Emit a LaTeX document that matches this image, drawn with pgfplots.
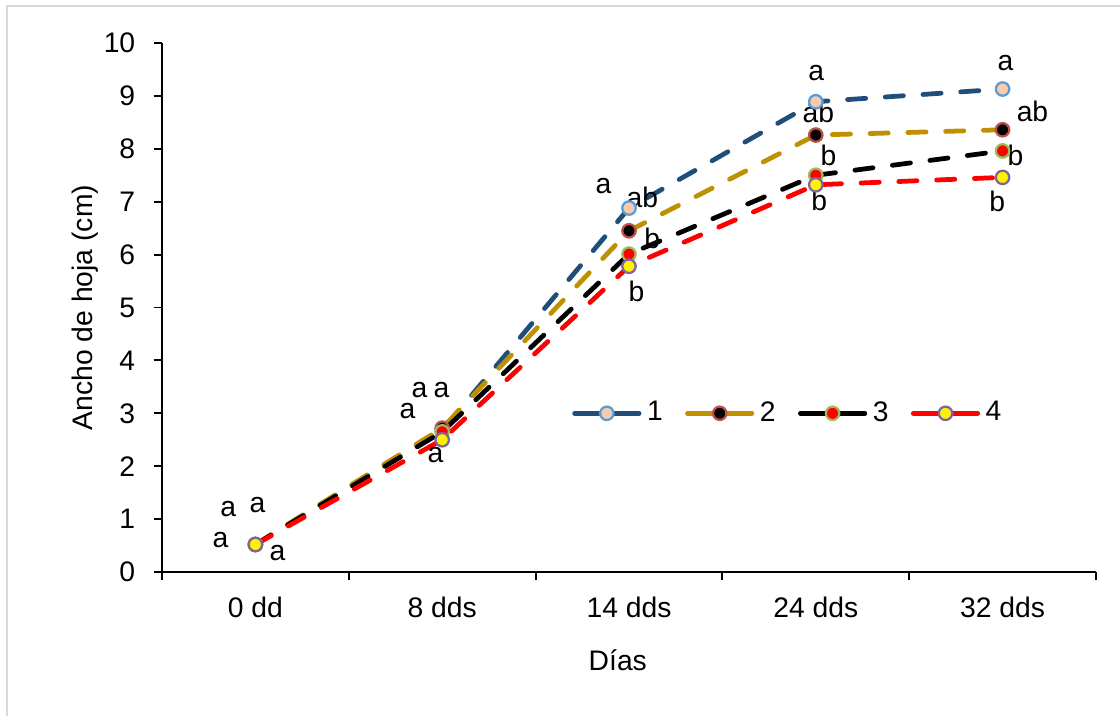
\documentclass[border=0pt]{standalone}
\usepackage{fontspec}
\setmainfont{Liberation Sans}
\usepackage{pgfplots}
\pgfplotsset{compat=1.18}
\definecolor{lblue}{HTML}{1F4E79}
\definecolor{peach}{HTML}{F8CBAD}
\definecolor{edgeblue}{HTML}{5B9BD5}
\definecolor{gold}{HTML}{BF9000}
\definecolor{edgered}{HTML}{C0504D}
\definecolor{edgegreen}{HTML}{9BBB59}
\definecolor{edgepurple}{HTML}{8064A2}
\definecolor{framegray}{HTML}{D9D9D9}
\newcommand{\ff}{\fontsize{10.1}{12}\selectfont}
\pgfplotstableread{
x s1 s2 s3 s4
0 0.52 0.52 0.52 0.52
1 2.68 2.72 2.65 2.50
2 6.88 6.45 6.01 5.78
3 8.89 8.26 7.50 7.32
4 9.13 8.36 7.96 7.46
}\datatable
\begin{document}
\ff
\begin{tikzpicture}
\useasboundingbox (0,0) rectangle (400pt,255.36pt);
\draw[color=framegray, line width=0.8pt] (2.5pt,-5pt) -- (2.5pt,253.2pt) -- (405pt,253.2pt);
\begin{axis}[
  at={(57.86pt,51.07pt)}, anchor=south west,
  scale only axis, width=333.57pt, height=188.93pt,
  xmin=-0.5, xmax=4.5, ymin=0, ymax=10,
  axis x line*=bottom, axis y line*=left,
  axis line style={line width=0.7pt, -, black},
  ytick={0,1,...,10},
  tick align=outside, major tick length=3pt,
  tick style={black, line width=0.7pt},
  xtick={-0.5,0.5,1.5,2.5,3.5,4.5}, xticklabels={},
  extra x ticks={0,1,2,3,4},
  extra x tick labels={0 dd,8 dds,14 dds,24 dds,32 dds},
  extra x tick style={major tick length=0pt, tick label style={yshift=-5.5pt}},
  yticklabel style={xshift=-3pt},
  /pgf/number format/assume math mode=true,
  tick label style={font=\ff},
  label style={font=\ff},
  ylabel={Ancho de hoja (cm)},
  ylabel style={at={(axis description cs:-0.082,0.5)}, anchor=center, rotate=0},
  xlabel={Días},
  xlabel style={at={(axis description cs:0.488,-0.166)}, anchor=center},
  legend style={at={(axis description cs:0.672,0.30)}, anchor=center, draw=none, fill=none,
    font=\ff, legend columns=4,
    /tikz/every even column/.append style={column sep=6pt}},
  legend image code/.code={%
    \draw[#1, solid, mark repeat=2, mark phase=2] plot coordinates {(0pt,0pt) (11.5pt,0pt) (23pt,0pt)};},
  every axis plot/.append style={line width=1.7pt, dash pattern=on 6.5pt off 7pt, line cap=round},
  clip=false,
]
\addplot[lblue, mark=*, mark size=2.4pt, mark options={solid, line width=0.8pt, draw=edgeblue, fill=peach}] table[x=x, y=s1] {\datatable};
\addlegendentry{1}
\addplot[gold, mark=*, mark size=2.4pt, mark options={solid, line width=0.8pt, draw=edgered, fill=black}] table[x=x, y=s2] {\datatable};
\addlegendentry{2}
\addplot[black, mark=*, mark size=2.4pt, mark options={solid, line width=0.8pt, draw=edgegreen, fill=red}] table[x=x, y=s3] {\datatable};
\addlegendentry{3}
\addplot[red, mark=*, mark size=2.4pt, mark options={solid, line width=0.8pt, draw=edgepurple, fill=yellow}] table[x=x, y=s4] {\datatable};
\addlegendentry{4}
% significance letters
\node[font=\ff] at (axis cs:-0.187,0.605) {a};
\node[font=\ff] at (axis cs:-0.145,1.19) {a};
\node[font=\ff] at (axis cs:0.011,1.27) {a};
\node[font=\ff] at (axis cs:0.118,0.36) {a};
\node[font=\ff] at (axis cs:0.814,3.04) {a};
\node[font=\ff] at (axis cs:0.878,3.44) {a};
\node[font=\ff] at (axis cs:0.996,3.44) {a};
\node[font=\ff] at (axis cs:0.964,2.21) {a};
\node[font=\ff] at (axis cs:1.863,7.30) {a};
\node[font=\ff] at (axis cs:2.072,7.09) {ab};
\node[font=\ff] at (axis cs:2.125,6.31) {b};
\node[font=\ff] at (axis cs:2.040,5.31) {b};
\node[font=\ff] at (axis cs:3.003,9.43) {a};
\node[font=\ff] at (axis cs:3.014,8.68) {ab};
\node[font=\ff] at (axis cs:3.068,7.88) {b};
\node[font=\ff] at (axis cs:3.019,7.03) {b};
\node[font=\ff] at (axis cs:4.015,9.62) {a};
\node[font=\ff] at (axis cs:4.160,8.70) {ab};
\node[font=\ff] at (axis cs:4.069,7.88) {b};
\node[font=\ff] at (axis cs:3.972,7.01) {b};
\end{axis}
\end{tikzpicture}
\end{document}
